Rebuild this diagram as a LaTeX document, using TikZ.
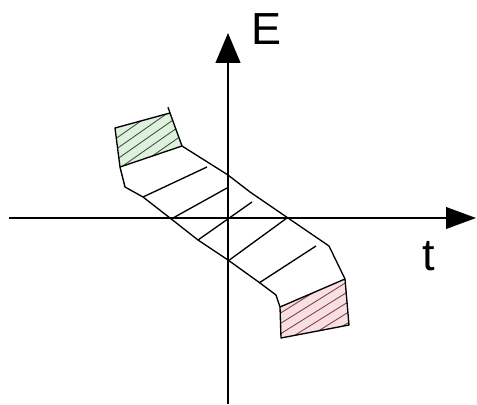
\documentclass[tikz,border=0pt]{standalone}
\usepackage{fontspec}
\setmainfont{Liberation Sans}
\usetikzlibrary{arrows.meta}
\definecolor{greenFill}{HTML}{DDF1DC}
\definecolor{greenHatch}{HTML}{3E4A3E}
\definecolor{pinkFill}{HTML}{F7DFE2}
\definecolor{pinkHatch}{HTML}{7A3C44}

\begin{document}
\begin{tikzpicture}[
  axis/.style={line width=1.4pt},
  band/.style={line width=0.95pt, line join=round},
  rung/.style={line width=0.95pt},
  hatch/.style={line width=0.6pt},
  lbl/.style={font=\fontsize{32}{38}\selectfont, inner sep=0pt},
]
\useasboundingbox (-5.7,-4.65) rectangle (6.225,5.45);

% ---- axes ----
\coordinate (tL) at (-5.475,0);
\coordinate (tR) at (6.2,0);
\coordinate (eB) at (0,-4.65);
\coordinate (eT) at (0,4.625);
\draw[axis, -{Triangle[length=7.5mm, width=5.4mm]}] (tL) -- (tR);
\draw[axis, -{Triangle[length=7.5mm, width=6.2mm]}] (eB) -- (eT);
\node[lbl] (E) at (0.975,4.725) {E};
\node[lbl] (t) at (5.025,-0.95) {t};

% ---- corners of the two ends ----
\coordinate (g1) at (-2.825,2.25);
\coordinate (g2) at (-1.45,2.625);
\coordinate (g3) at (-1.15,1.8);
\coordinate (g4) at (-2.7,1.275);
\coordinate (p1) at (1.3,-2.225);
\coordinate (p2) at (2.925,-1.525);
\coordinate (p3) at (3.025,-2.675);
\coordinate (p4) at (1.325,-3.0);

% ---- hatched ends ----
\fill[greenFill] (g1) -- (g2) -- (g3) -- (g4) -- cycle;
\begin{scope}
  \clip (g1) -- (g2) -- (g3) -- (g4) -- cycle;
  \begin{scope}[shift={(-2.03,1.99)}, rotate=35]
    \foreach \k in {-5,...,5} \draw[hatch, greenHatch] (-2,\k*0.22) -- (2,\k*0.22);
  \end{scope}
\end{scope}
\fill[pinkFill] (p1) -- (p2) -- (p3) -- (p4) -- cycle;
\begin{scope}
  \clip (p1) -- (p2) -- (p3) -- (p4) -- cycle;
  \begin{scope}[shift={(2.17,-2.36)}, rotate=32]
    \foreach \k in {-5,...,5} \draw[hatch, pinkHatch] (-2,\k*0.22) -- (2,\k*0.22);
  \end{scope}
\end{scope}

% ---- band outline ----
\draw[band] (g2) -- (g1) -- (g4) -- (-2.575,0.775) -- (-2.125,0.525) -- (-1.45,0)
  -- (-0.75,-0.55) -- (0,-1.05) -- (0.8,-1.625) -- (1.2,-1.925) -- (p1)
  -- (p4) -- (p3) -- (p2) -- (2.525,-0.7) -- (1.5,0) -- (0.55,0.65) -- (0,1.075)
  -- (g3) -- cycle;
\draw[band] (g2) -- (-1.5,2.77);
\draw[band] (g4) -- (g3);
\draw[band] (p1) -- (p2);

% ---- rungs ----
\draw[rung] (-2.125,0.525) -- (-0.525,1.275);
\draw[rung] (-1.375,0) -- (-0.025,0.75);
\draw[rung] (-0.75,-0.55) -- (0.6,0.4);
\draw[rung] (0,-1.075) -- (1.475,0);
\draw[rung] (0.775,-1.625) -- (2.2,-0.7);

\end{tikzpicture}
\end{document}
